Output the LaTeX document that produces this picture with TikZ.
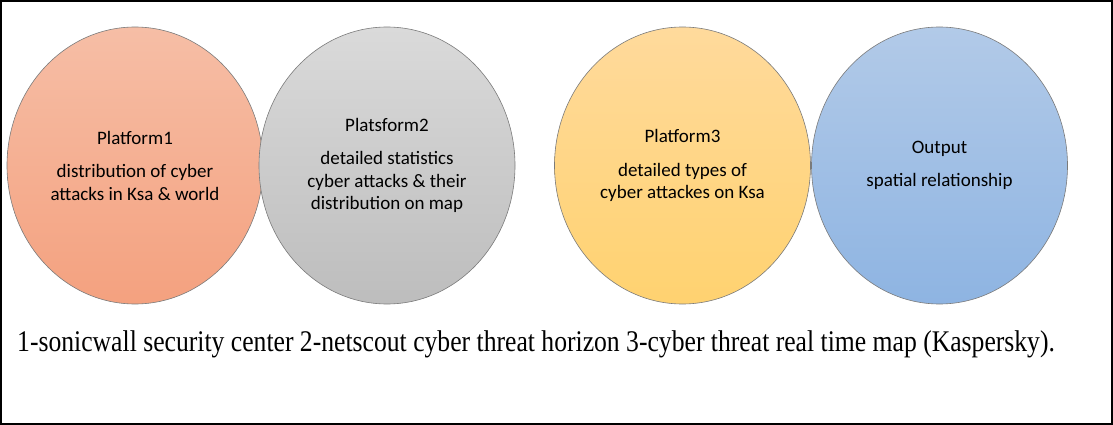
\documentclass[tikz,border=0pt]{standalone}
\usepackage{fontspec}
\setmainfont{Liberation Serif}
\newfontfamily\calib{Carlito}
\usetikzlibrary{shapes.geometric}
\definecolor{bordergray}{HTML}{7A7A7A}
\tikzset{
  blob/.style={ellipse, draw=bordergray, line width=0.6pt, minimum width=256pt, minimum height=277pt, inner sep=0pt},
  blobtext/.style={align=center, font=\calib\fontsize{19}{22.5}\selectfont, text=black},
}
\begin{document}
\begin{tikzpicture}[x=1pt,y=-1pt]
\useasboundingbox (0,0) rectangle (1113,425);
\draw[line width=1.6pt] (1,1) rectangle (1112,424);
\node[blob, top color={rgb,255:red,246;green,190;blue,166}, bottom color={rgb,255:red,244;green,161;blue,127}] (c1) at (135,165.5) {};
\node[blob, top color={rgb,255:red,218;green,218;blue,218}, bottom color={rgb,255:red,189;green,189;blue,189}] (c2) at (387,165.5) {};
\node[blob, top color={rgb,255:red,255;green,218;blue,156}, bottom color={rgb,255:red,255;green,210;blue,112}] (c3) at (682.5,165.5) {};
\node[blob, top color={rgb,255:red,178;green,202;blue,232}, bottom color={rgb,255:red,142;green,180;blue,226}] (c4) at (939.5,165.5) {};
\node[blobtext] (t1) at (c1.center) {Platform1\\[11pt]distribution of cyber\\attacks in Ksa \& world};
\node[blobtext] (t2) at (c2.center) {Platsform2\\[11pt]detailed statistics\\cyber attacks \& their\\distribution on map};
\node[blobtext] (t3) at (c3.center) {Platform3\\[11pt]detailed types of\\cyber attackes on Ksa};
\node[blobtext] (t4) at (c4.center) {Output\\[11pt]spatial relationship};
\node[anchor=base west, inner sep=0pt, font=\fontsize{30}{33}\selectfont] (cap) at (17,351) {\scalebox{0.855}[1]{1-sonicwall security center 2-netscout cyber threat horizon 3-cyber threat real time map (Kaspersky).}};
\end{tikzpicture}
\end{document}
